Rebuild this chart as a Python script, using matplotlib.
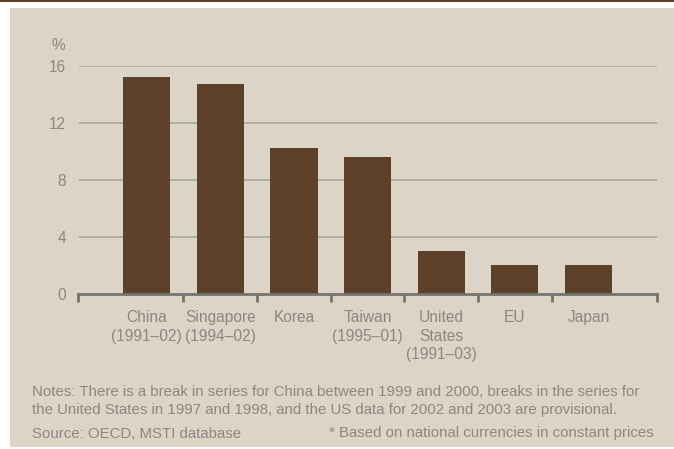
import numpy as np
import matplotlib
matplotlib.use('Agg')
import matplotlib.pyplot as plt
from matplotlib.patches import Rectangle

# average annual growth of R&D spending, %
countries = ['China\n(1991\u201302)', 'Singapore\n(1994\u201302)', 'Korea',
             'Taiwan\n(1995\u201301)', 'United\nStates\n(1991\u201303)', 'EU', 'Japan']
growth = [15.2, 14.7, 10.2, 9.6, 3.0, 2.0, 2.0]
yticks = [0, 4, 8, 12, 16]

NOTES = ('Notes: There is a break in series for China between 1999 and 2000, breaks in the series for\n'
         'the United States in 1997 and 1998, and the US data for 2002 and 2003 are provisional.')
SOURCE = 'Source: OECD, MSTI database'
FOOTNOTE = '* Based on national currencies in constant prices'

BEIGE = '#dcd4c7'
BROWN = '#5c4128'
TEXT = '#8c8782'
GRID = '#aaa59e'
AXIS = '#767470'

plt.rcParams['font.family'] = ['Liberation Sans', 'DejaVu Sans']
FS = 11.2
FS_NOTE = 10.8

W, H = 674, 449
fig = plt.figure(figsize=(W / 100, H / 100), dpi=100)
fig.patch.set_facecolor('white')

# panel background and thin rule along the top
fig.patches.append(Rectangle((10 / W, 1 - 447 / H), 1 - 10 / W, (447 - 8) / H,
                             transform=fig.transFigure, facecolor=BEIGE,
                             edgecolor='none', zorder=-2))
fig.patches.append(Rectangle((0, 1 - 1.5 / H), 1, 1.5 / H,
                             transform=fig.transFigure, facecolor=BROWN,
                             edgecolor='none', zorder=-2))

left, right = 78.5, 656.7
top, bottom = 66, 293.5
ax = fig.add_axes([left / W, 1 - bottom / H, (right - left) / W, (bottom - top) / H])
ax.set_facecolor('none')
ax.set_zorder(1)

x = np.arange(len(countries))
ax.bar(x, growth, width=0.64, color=BROWN, zorder=3)

xmin, xmax = -0.925, len(countries) - 1 + 0.925
ax.set_xlim(xmin, xmax)
ax.set_ylim(0, 16)

ax.set_yticks(yticks)
ax.set_yticklabels([str(v) for v in yticks])
for v in yticks[1:]:
    ax.axhline(v, color=GRID, lw=1.2, zorder=1)

ax.set_xticks(x)
ax.set_xticklabels(countries, linespacing=1.3)
ax.set_xticks([xmin] + list(np.arange(len(countries) - 1) + 0.5) + [xmax], minor=True)

ax.tick_params(axis='x', which='major', length=0, pad=12, labelsize=FS, labelcolor=TEXT)
ax.tick_params(axis='x', which='minor', length=5.5, width=2, color=AXIS, direction='out')
ax.tick_params(axis='y', length=0, pad=9, labelsize=FS, labelcolor=TEXT)

for s in ['left', 'right', 'top']:
    ax.spines[s].set_visible(False)
ax.spines['bottom'].set_color(AXIS)
ax.spines['bottom'].set_linewidth(2)
ax.spines['bottom'].set_zorder(4)

fig.text(58 / W, 1 - 45 / H, '%', ha='center', va='center', fontsize=FS, color=TEXT)

fig.text(32 / W, 1 - 385.5 / H, NOTES, ha='left', va='top', fontsize=FS_NOTE, color=TEXT,
         linespacing=1.3)
fig.text(32 / W, 1 - 433.5 / H, SOURCE, ha='left', va='center', fontsize=FS_NOTE, color=TEXT)
fig.text(654 / W, 1 - 433.5 / H, FOOTNOTE, ha='right', va='center', fontsize=FS_NOTE, color=TEXT)

fig.savefig('out.png', dpi=100)
